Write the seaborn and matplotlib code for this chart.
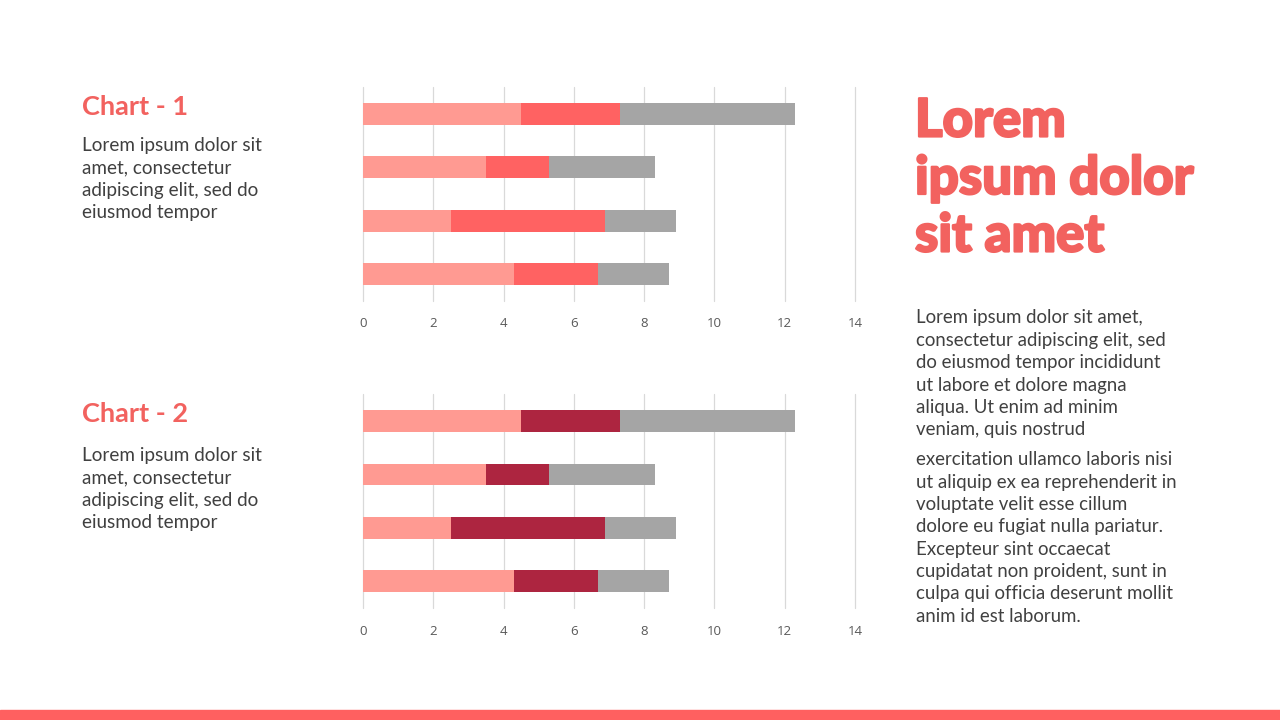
import pandas as pd
import seaborn as sns
import matplotlib.pyplot as plt
import matplotlib.patches as mpatches
import matplotlib.patheffects as pe

# data (PowerPoint default-style stacked bar data)
categories = ["Category 1", "Category 2", "Category 3", "Category 4"]
series_1 = [4.3, 2.5, 3.5, 4.5]
series_2 = [2.4, 4.4, 1.8, 2.8]
series_3 = [2.0, 2.0, 3.0, 5.0]
x_ticks = [0, 2, 4, 6, 8, 10, 12, 14]

left_body = ["Lorem ipsum dolor sit", "amet, consectetur",
             "adipiscing elit, sed do", "eiusmod tempor"]
title_lines = ["Lorem", "ipsum dolor", "sit amet"]
para_1 = ["Lorem ipsum dolor sit amet,", "consectetur adipiscing elit, sed",
          "do eiusmod tempor incididunt", "ut labore et dolore magna",
          "aliqua. Ut enim ad minim", "veniam, quis nostrud"]
para_2 = ["exercitation ullamco laboris nisi", "ut aliquip ex ea reprehenderit in",
          "voluptate velit esse cillum", "dolore eu fugiat nulla pariatur.",
          "Excepteur sint occaecat", "cupidatat non proident, sunt in",
          "culpa qui officia deserunt mollit", "anim id est laborum."]

PINK = "#FF9A92"
RED = "#FF6262"
DARK = "#AD2540"
GREY = "#A5A5A5"
ACCENT = "#F2625F"
TEXT = "#404040"

sns.set_theme(style="white")
plt.rcParams['font.family'] = ['Lato', 'DejaVu Sans']

df = pd.DataFrame({"cat": categories, "s1": series_1, "s2": series_2, "s3": series_3})
df["c2"] = df["s1"] + df["s2"]
df["c3"] = df["c2"] + df["s3"]
order = categories[::-1]

fig = plt.figure(figsize=(12.8, 7.2), dpi=100)
W, H = 1280, 720

def px(x, y):
    return x / W, 1 - y / H

def stacked(ax, mid_color):
    # draw cumulative totals back to front
    for col, color in [("c3", GREY), ("c2", mid_color), ("s1", PINK)]:
        sns.barplot(data=df, x=col, y="cat", order=order, color=color,
                    width=0.41, orient="h", ax=ax, saturation=1, linewidth=0)
    ax.set_xlim(0, 14)
    ax.set_xticks(x_ticks)
    ax.set_ylim(3.5, -0.5)
    ax.set_xlabel("")
    ax.set_ylabel("")
    ax.set_yticks([])
    ax.grid(axis="x", color="#D9D9D9", linewidth=0.9)
    for gl in ax.get_xgridlines():
        gl.set_clip_on(False)
    ax.set_axisbelow(True)
    for s in ax.spines.values():
        s.set_visible(False)
    ax.tick_params(axis="x", colors="#595959", labelsize=9.5, length=0, pad=12)
    for lbl in ax.get_xticklabels():
        lbl.set_fontfamily(['Open Sans', 'DejaVu Sans'])

ax1 = fig.add_axes([363 / W, 1 - 300.7 / H, 492 / W, 213.6 / H])
stacked(ax1, RED)
ax2 = fig.add_axes([363 / W, 1 - 608 / H, 492 / W, 213.6 / H])
stacked(ax2, DARK)

# left text blocks
for title, ty, by in [("Chart - 1", 107, 146), ("Chart - 2", 414, 456)]:
    fig.text(*px(82, ty), title, color=ACCENT, fontsize=19.5, fontweight="bold", va="center")
    for i, line in enumerate(left_body):
        fig.text(*px(82, by + i * 22.3), line, color=TEXT, fontsize=13.6, va="center")

# right title (heavier look via a thin stroke)
for i, line in enumerate(title_lines):
    fig.text(*px(915, 121 + i * 57.5), line, color=ACCENT, fontsize=38,
             fontweight="black", va="center",
             path_effects=[pe.withStroke(linewidth=1.6, foreground=ACCENT)])

for i, line in enumerate(para_1):
    fig.text(*px(916, 318 + i * 22.4), line, color=TEXT, fontsize=13.4, va="center")
for i, line in enumerate(para_2):
    fig.text(*px(916, 460 + i * 22.3), line, color=TEXT, fontsize=13.4, va="center")

# bottom stripe
fig.patches.append(mpatches.Rectangle((0, 0), 1, 10 / H, transform=fig.transFigure,
                                      color="#FF6060", zorder=0))

fig.savefig("out.png", dpi=100, facecolor="white")
